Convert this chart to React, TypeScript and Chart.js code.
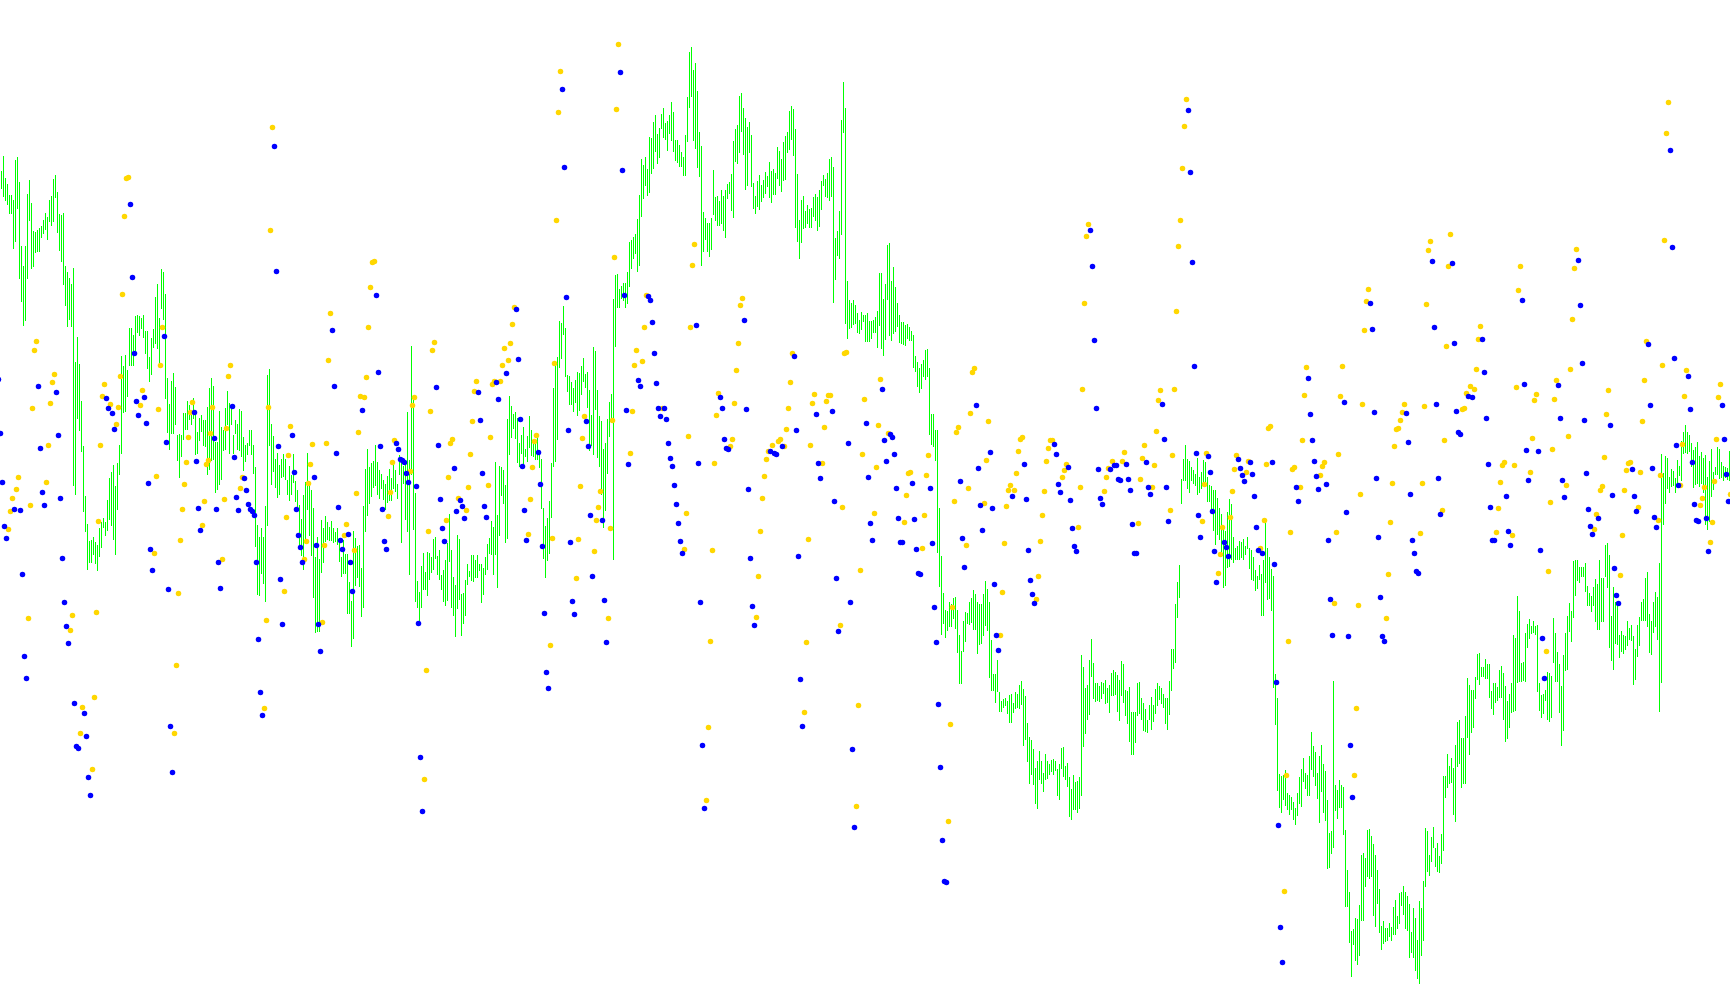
import React, { useEffect, useRef } from "react";
import { Chart, registerables } from "chart.js";

Chart.register(...registerables);

// Each entry is one session's [top, bottom] range (axis runs downward).
const sessionRanges1: number[][] = [
[171,189],[156,197],[178,201],[184,205],[195,214],[195,214],[200,249],[160,242],[157,209],[182,279],
[246,302],[266,326],[246,321],[194,279],[180,221],[203,269],[231,267],[232,253],[230,252],[228,252],
[226,238],[220,234],[213,230],[217,240],[200,222],[196,226],[179,222],[175,198],[192,233],[214,251],
[215,262],[213,285],[266,306],[272,327],[278,320],[284,327],[268,486],[362,495],[337,419],[364,431],
[401,452],[446,512],[496,532],[524,570],[541,563],[540,563],[537,555],[542,564],[545,571],[528,557],
[522,548],[518,528],[522,536],[500,531],[478,520],[472,526],[465,540],[486,555],[463,510],[445,475],
[356,454],[366,413],[355,412],[370,397],[328,366],[328,366],[335,366],[316,351],[315,333],[316,336],
[318,329],[315,338],[331,354],[331,369],[357,382],[338,375],[329,348],[297,344],[284,349],[318,363],
[269,309],[272,320],[294,399],[378,433],[404,450],[381,434],[373,434],[387,425],[435,461],[434,478],
[435,457],[413,440],[413,430],[401,430],[405,420],[415,425],[398,419],[414,455],[432,454],[418,441],
[415,432],[420,446],[420,447],[407,475],[388,470],[378,461],[386,460],[442,493],[442,490],[411,485],
[427,480],[430,451],[408,450],[391,425],[403,454],[407,425],[435,454],[420,434],[424,450],[409,451],
[411,457],[437,471],[445,462],[443,455],[430,446],[430,455],[445,474],[467,547],[525,595],[537,596],
[528,574],[537,584],[506,602],[375,526],[369,446],[424,485],[436,472],[459,488],[453,498],[465,495],
[459,478],[454,477],[459,480],[480,495],[466,501],[475,495],[454,483],[481,502],[490,510],[505,545],
[519,556],[495,570],[482,540],[453,510],[482,536],[490,556],[508,598],[557,633],[537,632],[559,632],
[520,573],[528,563],[516,542],[522,540],[527,541],[521,541],[528,543],[532,542],[528,545],[538,562],
[557,577],[540,574],[554,574],[554,614],[582,614],[601,647],[531,639],[538,586],[546,578],[545,587],
[568,617],[506,608],[469,532],[449,516],[467,504],[463,497],[461,488],[445,486],[462,495],[470,499],
[474,489],[480,500],[484,510],[476,503],[469,501],[478,501],[465,489],[470,492],[484,499],[455,475],
[460,543],[466,484],[460,520],[412,532],[460,575],[346,475],[400,530],[493,602],[581,608],[592,623],
[566,608],[553,590],[572,590],[552,596],[553,580],[557,573],
[539,570],[537,559],[556,575],[550,580],[575,590],[570,602],[560,606],[543,601],[514,562],[550,608],
[577,616],[585,637],[535,609],[539,600],[594,636],[593,624],[580,616],[564,585],[571,577],[555,581],
[555,582],[560,578],[555,578],[564,571],[564,603],[568,595],[557,575],[544,570],[538,554],[521,555],
[527,575],[462,555],[515,588],[466,536],[467,496],[470,504],[485,543],[419,539],[396,455],[406,438],
[414,429],[412,439],[418,463],[443,467],[435,454],[427,464],[449,457],[436,462],[416,448],[430,456],
[443,457],[440,460],[437,460],[450,468],[459,509],[508,559],[526,578],[518,561],[501,554],[463,518],
[388,467],[366,462],[357,440],[321,368],[323,359],[306,335],[328,377],[375,392],[376,405],[382,405],
[388,412],[380,403],[372,416],[373,411],[366,395],[358,382],[374,388],[372,408],[390,451],[415,446],
[347,455],[351,410],[390,458],[416,467],[421,495],[449,528],[443,511],[419,474],[402,437],[394,423],
];

const sessionRanges2: number[][] = [
[299,560],[275,347],[274,308],[289,308],[286,299],[283,301],[283,308],[272,304],
[242,287],[240,269],[237,259],[234,254],[219,272],[195,266],[159,217],[165,199],[157,186],[169,196],
[137,193],[138,174],[122,169],[115,152],[134,164],[128,158],[114,129],[108,138],[123,140],[121,151],
[115,134],[102,141],[112,152],[140,161],[140,163],[145,167],[152,167],[157,176],[135,176],[97,142],
[52,108],[47,97],[70,141],[63,149],[91,168],[132,177],[146,266],[212,252],[218,240],[223,252],
[223,257],[218,250],[170,215],[197,221],[196,226],[201,226],[190,224],[196,231],[190,238],[184,199],
[182,194],[174,211],[141,218],[129,162],[125,164],[96,153],[93,132],[108,155],[118,190],[127,186],
[122,153],[135,187],[183,209],[196,214],[181,207],[175,210],[185,202],[180,198],[172,194],[176,187],
[162,198],[171,203],[169,195],[173,195],[147,179],[151,186],[159,192],[142,181],[136,180],[132,153],
[111,150],[106,140],[109,156],[129,228],[174,242],[220,259],[200,243],[196,229],[211,228],[205,224],
[209,228],[208,228],[197,217],[194,221],[197,231],[190,227],[181,210],[175,186],[179,197],[173,198],
[159,201],[157,197],[167,303],[238,280],[231,256],[211,259],[120,235],[82,133],[108,324],[281,339],
[300,329],[303,328],[300,325],[305,324],[313,333],[320,334],[312,330],[315,322],[315,342],[313,342],
[321,342],[321,339],[320,333],[317,333],[311,348],[273,326],[273,349],[299,356],[284,340],[245,300],
[243,336],[281,341],[267,334],[287,332],[303,327],[315,343],[322,344],[322,345],[325,346],[324,339],
[327,341],[331,341],[335,368],[356,372],[362,387],[368,393],[364,389],[360,377],[350,380],[349,377],
[368,435],[414,445],[414,447],[430,461],[430,553],[508,587],[556,635],[593,624],[610,638],[611,631],
[602,627],[604,627],[598,619],[597,629],[610,653],[635,684],[651,684],[621,652],[612,642],[613,624],
[602,625],[598,623],[590,630],[594,630],[602,654],[604,645],[604,644],[594,636],[581,626],[589,631],
[602,678],[640,691],[674,691],[674,703],[660,692],[692,712],[701,712],[699,708],[698,706],[701,714],
[695,723],[694,723],[703,713],[692,709],[694,708],[685,709],[681,705],[689,746],[696,740],[723,762],
[737,784],[740,775],[749,785],[768,804],[761,809],[751,780],[761,784],[773,792],[754,780],[761,779],
[764,775],[760,772],[759,775],[761,771],[769,796],[764,800],[748,769],[747,777],[766,780],[763,787],
[777,817],[789,820],[775,810],[782,810],[781,813],[777,809],[655,796],[667,747],[688,734],[685,720],
[660,715],[639,677],[663,699],[683,702],[683,701],[686,702],[682,699],[683,694],[680,704],[688,703],
[685,713],[673,696],[670,696],[672,695],[675,712],[680,721],[661,696],[664,703],[690,716],[691,724],
[687,742],[712,755],[712,755],[712,743],[683,716],[682,714],[698,720],[703,731],[709,732],[720,733],
[705,720],[697,730],[705,722],[689,714],[683,706],[686,700],[688,704],[694,708],[698,724],[698,730],
[681,715],[649,691],[649,669],[604,663],[582,618],[565,598],[479,504],[459,481],[445,481],[459,489],
];

const sessionRanges3: number[][] = [
[461,493],[467,481],[470,484],[474,486],[458,495],[477,493],[472,489],[460,484],[462,484],[477,502],
[485,502],[486,514],[490,531],[490,545],[498,535],[508,540],[514,552],[526,588],[531,586],[512,568],
[499,567],[504,560],[537,563],[548,560],[546,560],[541,560],[542,558],[539,560],[546,555],[537,549],
[548,569],[550,580],[557,581],[570,591],[576,589],[565,580],[574,616],[560,616],[523,583],[548,600],
[557,599],[569,611],[576,688],[674,725],[698,791],[774,808],[776,813],[775,800],[770,806],[793,810],
[795,815],[797,810],[802,820],[808,825],[793,816],[777,804],[769,807],[758,782],[773,789],[775,796],
[756,796],[732,770],[746,777],[752,786],[773,799],[756,823],[745,792],[764,813],[771,821],[800,869],
[833,868],[831,854],[681,848],[785,811],[790,819],[780,808],[785,808],[787,835],[830,907],[870,907],
[892,943],[931,977],[929,945],[918,961],[919,965],[905,956],[855,921],[853,921],[858,887],[830,877],
[829,879],[836,877],[844,916],[855,927],[870,904],[889,933],[926,950],[921,944],[928,942],[928,941],
[923,937],[927,941],[907,935],[900,935],[916,929],[893,924],[892,906],[886,915],[892,929],[896,931],
[904,958],[932,953],[908,958],[918,971],[940,979],[901,984],[908,956],[881,941],[828,887],[831,872],
[855,876],[837,862],[827,848],[848,867],[843,872],[856,873],[834,864],[776,851],[776,798],[754,788],
[766,784],[758,783],[768,815],[745,822],[722,767],[720,764],[738,788],[738,784],[716,784],[678,738],
[685,755],[690,733],[690,728],[677,699],[654,680],[653,685],[667,677],[667,677],[659,679],[664,679],
[664,698],[691,709],[683,715],[683,703],[687,701],[670,698],[666,698],[673,720],[686,742],[701,739],
[694,728],[683,713],[635,712],[638,711],[596,683],[611,682],[663,682],[662,681],[633,682],[624,648],
[619,639],[626,634],[621,633],[626,635],[625,692],[683,711],[695,718],[694,714],[690,701],[672,720],
[673,722],[676,718],[618,663],[633,682],[652,682],[664,713],[686,746],[655,731],[633,671],[616,670],
[603,632],[611,642],[561,618],[560,596],[560,581],[567,583],[567,577],[567,577],[563,592],[586,606],
[593,606],[596,612],[587,606],[579,622],[584,630],[560,630],[578,622],[578,622],[545,577],[543,588],
[555,648],[616,661],[587,670],[602,644],[602,645],[635,658],[631,652],[635,654],[636,650],[621,646],
[628,640],[625,641],[636,685],[649,680],[625,657],[617,646],[602,621],[599,621],[578,621],[572,627],
[614,653],[621,655],[602,633],[592,627],[597,640],[563,712],[454,683],[473,525],[456,504],[458,489],
[477,493],[469,487],[471,486],[478,493],[460,484],[466,476],[441,481],[432,454],[425,453],[432,454],
[435,452],[443,467],[450,488],[447,485],[442,484],[456,487],[452,484],[458,493],[455,525],[477,530],
[461,522],[449,497],[472,490],[467,475],[447,475],[449,479],[462,478],[466,481],[467,478],[468,480],
[451,481],
];

const sessionRanges = [...sessionRanges1, ...sessionRanges2, ...sessionRanges3];

// [session, value] for the rising swing points.
const risingPoints: number[][] = [
[4,529],[5,511],[6,498],[8,489],[9,477],[14,618],[15,505],[16,408],[17,350],[18,341],[23,482],[24,445],[25,403],[26,382],[27,374],
[35,630],[36,615],[40,733],[41,707],[46,769],[47,697],[48,612],[49,521],[50,445],[51,396],[52,384],[55,404],[58,424],[59,407],[60,376],
[61,294],[62,216],[63,178],[64,177],[70,405],[71,390],[77,553],[78,476],[79,409],[80,365],[81,327],[87,733],[88,665],[89,593],[90,540],
[91,509],[92,484],[93,462],[94,437],[95,412],[96,402],[101,525],[102,501],[103,464],[104,460],[105,433],[106,407],[111,559],[112,499],[113,428],
[114,376],[115,365],[120,488],[121,477],[132,708],[133,620],[134,407],[135,230],[136,127],[142,591],[143,517],[144,455],[145,426],[152,559],[153,541],
[154,483],[155,464],[156,444],[161,622],[162,545],[163,443],[164,360],[165,313],[172,535],[173,524],[177,550],[178,493],[179,432],[180,396],[182,397],
[183,377],[184,327],[185,287],[186,262],[187,261],[194,516],[195,492],[196,462],[197,440],[205,471],[206,405],[207,397],[212,779],[213,670],[214,531],
[215,411],[216,350],[217,342],[223,520],[224,477],[225,443],[226,439],[229,498],[233,510],[234,487],[235,454],[236,421],[237,391],[238,381],[244,485],
[245,437],[246,384],[247,381],[250,381],[251,365],[252,348],[254,360],[255,343],[256,324],[257,307],[264,534],[265,499],[266,467],[267,441],[268,435],
[275,645],[276,538],[277,363],[278,220],[279,112],[280,71],[288,578],[289,539],[290,486],[291,438],[292,416],[297,551],[298,520],[299,507],[300,491],
[304,618],[305,528],[306,420],[307,257],[308,109],[309,44],[315,453],[316,411],[317,365],[318,350],[321,361],[322,327],[323,295],[331,408],[342,549],
[343,513],[344,436],[345,327],[346,265],[347,244],[353,800],[354,727],[355,641],[356,550],[357,463],[358,415],[359,393],[365,446],[366,439],[367,403],
[368,370],[369,343],[370,305],[371,298],[378,617],[379,576],[380,531],[381,498],[382,476],[383,459],[384,451],[386,445],[389,441],[390,439],[392,446],
[393,429],[394,408],[395,382],[396,353],[402,712],[403,642],[404,539],[405,445],[406,403],[407,394],[411,463],[412,427],[413,401],[414,395],[415,395],
[420,625],[421,507],[422,353],[423,352],[428,806],[429,705],[430,570],[431,454],[432,399],[437,513],[438,467],[439,425],[440,379],[444,433],[452,522],
[453,495],[454,473],[455,472],[461,548],[462,515],[463,475],[464,455],[474,821],[475,724],[476,607],[477,501],[478,432],[479,427],[483,545],[484,488],
[485,413],[486,372],[487,368],[492,503],[493,460],[494,421],[500,635],[501,592],[502,543],[503,506],[504,490],[505,485],[507,490],[508,473],[509,451],
[510,439],[511,437],[518,599],[519,576],[520,541],[521,515],[522,491],[523,461],[524,448],[525,440],[526,440],[531,477],[532,470],[533,464],[539,527],
[540,487],[541,389],[542,303],[543,236],[544,224],[552,491],[553,477],[554,468],[556,461],[561,461],[562,452],[569,523],[570,479],[571,458],[572,445],
[576,487],[577,465],[578,431],[579,400],[580,390],[585,510],[586,455],[587,389],[588,311],[589,246],[590,220],[591,168],[592,126],[593,99],[601,521],
[602,484],[603,453],[609,573],[610,554],[611,527],[615,517],[616,491],[617,469],[618,455],[623,472],[624,461],[630,548],[632,520],[633,464],[634,428],
[635,426],[642,891],[643,775],[644,641],[645,532],[646,469],[647,467],[650,487],[651,440],[652,395],[653,367],[660,475],[661,466],[662,462],[667,603],
[668,532],[669,454],[670,396],[671,366],[677,775],[678,708],[679,605],[680,494],[681,404],[682,330],[683,301],[684,289],[693,618],[694,574],[695,522],
[696,483],[697,446],[698,429],[699,428],[700,420],[701,412],[702,404],[710,533],[711,483],[712,406],[713,304],[714,250],[715,241],[721,510],[722,440],
[723,346],[724,266],[725,234],[731,409],[732,408],[733,393],[735,386],[737,389],[738,369],[739,339],[740,326],[748,532],[749,508],[750,482],[751,465],
[752,462],[756,535],[757,465],[758,387],[759,290],[760,266],[765,472],[766,438],[767,400],[768,394],[773,651],[774,571],[775,502],[776,449],[777,399],
[778,380],[783,485],[784,436],[785,369],[786,319],[787,268],[788,249],[797,529],[798,514],[800,490],[801,486],[802,457],[803,414],[804,390],[810,575],
[811,535],[812,490],[813,470],[814,463],[815,462],[819,507],[820,472],[821,421],[822,380],[823,341],[829,520],[830,475],[831,365],[832,240],[833,133],
[834,102],[840,485],[841,444],[842,396],[843,370],[850,505],[851,498],[852,487],[855,542],[856,522],[857,481],[858,439],[859,397],[860,384],[865,494],
];

// [session, value] for the falling swing points.
const fallingPoints: number[][] = [
[-1,379],[0,433],[1,482],[2,526],[3,538],[7,509],[10,510],[11,574],[12,656],[13,678],[19,386],[20,448],[21,492],[22,505],[28,392],
[29,435],[30,498],[31,558],[32,602],[33,626],[34,643],[37,703],[38,746],[39,748],[42,713],[43,736],[44,777],[45,795],[53,398],[54,408],
[56,413],[57,429],[65,204],[66,277],[67,353],[68,401],[69,415],[72,397],[73,423],[74,483],[75,549],[76,570],[82,336],[83,442],[84,589],
[85,726],[86,772],[97,412],[98,461],[99,508],[100,530],[107,438],[108,509],[109,562],[110,588],[116,406],[117,457],[118,497],[119,510],[122,478],
[123,490],[124,504],[125,509],[126,511],[127,515],[128,562],[129,639],[130,692],[131,715],[137,146],[138,271],[139,446],[140,579],[141,624],[146,435],
[147,472],[148,509],[149,535],[150,547],[151,562],[157,477],[158,545],[159,624],[160,651],[166,330],[167,386],[168,453],[169,507],[170,540],[171,549],
[174,534],[175,562],[176,591],[181,410],[188,295],[189,372],[190,446],[191,509],[192,541],[193,549],[198,443],[199,449],[200,459],[201,460],[202,462],
[203,473],[204,482],[208,486],[209,623],[210,757],[211,811],[218,387],[219,445],[220,499],[221,528],[222,541],[227,468],[228,511],[230,500],[231,506],
[232,518],[239,392],[240,420],[241,473],[242,506],[243,517],[248,382],[249,399],[253,373],[258,309],[259,359],[260,419],[261,466],[262,510],[263,540],
[269,452],[270,484],[271,546],[272,613],[273,672],[274,688],[281,89],[282,167],[283,297],[284,430],[285,542],[286,601],[287,614],[293,421],[294,446],
[295,515],[296,576],[301,520],[302,600],[303,642],[310,72],[311,170],[312,295],[313,410],[314,464],[319,380],[320,386],[324,296],[325,300],[326,322],
[327,353],[328,383],[329,408],[330,416],[332,408],[333,419],[334,443],[335,458],[336,466],[337,485],[338,504],[339,523],[340,541],[341,553],[348,325],
[349,463],[350,602],[351,745],[352,808],[360,397],[361,408],[362,439],[363,448],[364,449],[372,320],[373,409],[374,489],[375,558],[376,606],[377,625],
[385,451],[387,453],[388,454],[391,446],[397,356],[398,430],[399,556],[400,679],[401,726],[408,414],[409,463],[410,478],[416,411],[417,501],[418,578],
[419,631],[424,443],[425,602],[426,749],[427,827],[433,423],[434,477],[435,523],[436,540],[441,389],[442,440],[443,461],[445,434],[446,437],[447,454],
[448,488],[449,518],[450,542],[451,542],[456,483],[457,519],[458,549],[459,573],[460,574],[465,488],[466,543],[467,607],[468,642],[469,704],[470,767],
[471,840],[472,881],[473,882],[480,481],[481,538],[482,567],[488,405],[489,468],[490,505],[491,530],[495,452],[496,508],[497,584],[498,635],[499,650],
[506,496],[512,464],[513,499],[514,550],[515,580],[516,594],[517,603],[527,444],[528,454],[529,484],[530,492],[534,467],[535,500],[536,528],[537,546],
[538,551],[545,230],[546,266],[547,340],[548,408],[549,469],[550,498],[551,504],[555,469],[557,465],[558,465],[559,479],[560,480],[563,464],[564,479],
[565,490],[566,524],[567,553],[568,553],[573,462],[574,487],[575,494],[581,404],[582,439],[583,487],[584,521],[594,110],[595,172],[596,262],[597,366],
[598,453],[599,515],[600,537],[604,456],[605,472],[606,511],[607,551],[608,582],[612,542],[613,547],[614,556],[619,459],[620,468],[621,475],[622,481],
[625,462],[626,474],[627,496],[628,527],[629,550],[631,553],[636,462],[637,564],[638,682],[639,825],[640,927],[641,962],[648,487],[649,501],[654,378],
[655,414],[656,440],[657,461],[658,476],[659,489],[663,484],[664,540],[665,599],[666,635],[672,402],[673,512],[674,636],[675,745],[676,797],[685,303],
[686,329],[687,412],[688,478],[689,537],[690,597],[691,636],[692,641],[703,413],[704,442],[705,494],[706,540],[707,553],[708,571],[709,573],[716,261],
[717,327],[718,404],[719,478],[720,514],[726,263],[727,343],[728,411],[729,432],[730,434],[734,396],[736,397],[741,339],[742,372],[743,418],[744,464],
[745,507],[746,540],[747,540],[753,496],[754,531],[755,545],[761,300],[762,384],[763,450],[764,480],[769,451],[770,550],[771,638],[772,678],[779,385],
[780,418],[781,480],[782,497],[789,260],[790,305],[791,363],[792,420],[793,473],[794,509],[795,526],[796,534],[799,518],[805,425],[806,495],[807,568],
[808,595],[809,603],[816,469],[817,496],[818,511],[824,344],[825,405],[826,468],[827,517],[828,527],[835,150],[836,247],[837,358],[838,445],[839,485],
[844,376],[845,409],[846,462],[847,504],[848,520],[849,521],[853,518],[854,551],[861,405],[862,439],[863,474],[864,501],
];

const POINT_OFFSET_X = -0.5;
const POINT_OFFSET_Y = 0.5;

export default function App() {
  const ref = useRef<HTMLCanvasElement | null>(null);
  useEffect(() => {
    document.body.style.margin = "0";
    const chart = new Chart(ref.current as HTMLCanvasElement, {
      type: "bar",
      data: {
        datasets: [
          {
            type: "scatter",
            data: fallingPoints.map(([x, y]) => ({ x: x + POINT_OFFSET_X, y: y + POINT_OFFSET_Y })),
            backgroundColor: "#0000ff",
            borderWidth: 0,
            pointRadius: 2.75,
            order: 1,
          },
          {
            type: "scatter",
            data: risingPoints.map(([x, y]) => ({ x: x + POINT_OFFSET_X, y: y + POINT_OFFSET_Y })),
            backgroundColor: "#ffd700",
            borderWidth: 0,
            pointRadius: 2.75,
            order: 2,
          },
          {
            type: "bar",
            data: sessionRanges.map((r, i) => ({ x: i, y: r })),
            backgroundColor: "#00ff00",
            borderWidth: 0,
            barThickness: 1,
            inflateAmount: 0,
            order: 3,
          },
        ],
      } as any,
      options: {
        animation: false,
        responsive: false,
        layout: { padding: 0, autoPadding: false },
        plugins: { legend: { display: false }, tooltip: { enabled: false } },
        events: [],
        scales: {
          x: { type: "linear", min: -0.75, max: 864.25, display: false, offset: false },
          y: { type: "linear", min: 0, max: 1005, reverse: true, display: false },
        },
      } as any,
    });
    return () => chart.destroy();
  }, []);
  return <canvas ref={ref} width={1730} height={1005} style={{ display: "block" }} />;
}
